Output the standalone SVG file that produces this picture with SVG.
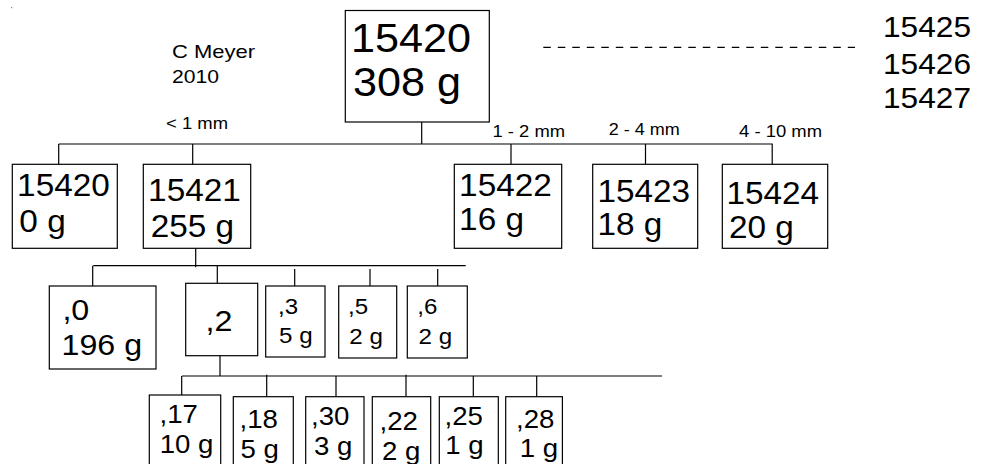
<svg xmlns="http://www.w3.org/2000/svg" width="987" height="464" viewBox="0 0 987 464">
<style>
  .box { fill: #fff; stroke: #000; stroke-width: 1.2; }
  .ln { fill: none; stroke: #000; stroke-width: 1.2; }
  .dash { fill: none; stroke: #000; stroke-width: 1.2; stroke-dasharray: 7.5 7; }
  text { font-family: "Liberation Sans", Arial, sans-serif; fill: #000; }
  .t44 { font-size: 40px; }
  .t29 { font-size: 30.5px; }
  .t28 { font-size: 29px; }
  .t24 { font-size: 25px; }
  .t21 { font-size: 22px; }
  .t18 { font-size: 19px; }
  .t16 { font-size: 16.5px; }
  .t15 { font-size: 16px; }
  .tr { font-size: 29.5px; }
</style>
<rect width="987" height="464" fill="#fff"/>
<rect x="11" y="7" width="1.2" height="1.2" fill="#888"/>

<g id="connectors">
  <path class="ln" d="M421.7 122 V144 M58.7 144 H772.7 M58.7 144 V164.3 M192.7 144 V164.3 M511 144 V164.3 M645.5 144 V164.3 M772.2 144 V164.3"/>
  <path class="ln" d="M195.7 248.3 V267.3 M93.3 265.7 H465.7 M92.7 265.7 V286 M217.3 265.7 V283.3 M294.7 269 V286 M370 269 V286 M437.7 269 V286"/>
  <path class="ln" d="M220 355.7 V376 M182 376 H662 M181.7 376 V395 M266.7 374.8 V396.7 M336 376 V396.7 M406 374.8 V396.7 M473.3 376 V396.7 M536.7 376 V396.7"/>
  <path class="dash" d="M543.3 47.3 H855"/>
</g>

<g id="labels">
  <text class="t18" x="172" y="58.3" textLength="83" lengthAdjust="spacingAndGlyphs">C Meyer</text>
  <text class="t18" x="172" y="83.3" textLength="47" lengthAdjust="spacingAndGlyphs">2010</text>
  <text class="t16" x="166" y="129" textLength="62" lengthAdjust="spacingAndGlyphs">&lt; 1 mm</text>
  <text class="t15" x="492.5" y="136.5" textLength="72.5" lengthAdjust="spacingAndGlyphs">1 - 2 mm</text>
  <text class="t15" x="608.8" y="135" textLength="71" lengthAdjust="spacingAndGlyphs">2 - 4 mm</text>
  <text class="t15" x="739" y="136.5" textLength="83" lengthAdjust="spacingAndGlyphs">4 - 10 mm</text>
  <text class="tr" x="883" y="37" textLength="88" lengthAdjust="spacingAndGlyphs">15425</text>
  <text class="tr" x="883" y="73.5" textLength="88" lengthAdjust="spacingAndGlyphs">15426</text>
  <text class="tr" x="883" y="108" textLength="88" lengthAdjust="spacingAndGlyphs">15427</text>
</g>

<g id="n15420-root">
  <rect class="box" x="345.3" y="10.5" width="144" height="111.5"/>
  <text class="t44" x="351" y="51.5" textLength="120" lengthAdjust="spacingAndGlyphs">15420</text>
  <text class="t44" x="353" y="96.3" textLength="108" lengthAdjust="spacingAndGlyphs">308 g</text>
</g>

<g id="n15420">
  <rect class="box" x="12.3" y="164.3" width="105" height="84"/>
  <text class="t29" x="17.1" y="195.7" textLength="92.7" lengthAdjust="spacingAndGlyphs">15420</text>
  <text class="t29" x="19.3" y="231.5" textLength="46.4" lengthAdjust="spacingAndGlyphs">0 g</text>
</g>
<g id="n15421">
  <rect class="box" x="143.3" y="164.3" width="107.4" height="84"/>
  <text class="t29" x="148.1" y="201" textLength="92.7" lengthAdjust="spacingAndGlyphs">15421</text>
  <text class="t29" x="150.7" y="236.5" textLength="83.4" lengthAdjust="spacingAndGlyphs">255 g</text>
</g>
<g id="n15422">
  <rect class="box" x="454.3" y="164.3" width="107.4" height="84"/>
  <text class="t29" x="459.1" y="195.7" textLength="92.7" lengthAdjust="spacingAndGlyphs">15422</text>
  <text class="t29" x="459.1" y="230" textLength="64.9" lengthAdjust="spacingAndGlyphs">16 g</text>
</g>
<g id="n15423">
  <rect class="box" x="592.7" y="164.3" width="105" height="84"/>
  <text class="t29" x="597.4" y="201.7" textLength="92.7" lengthAdjust="spacingAndGlyphs">15423</text>
  <text class="t29" x="597.4" y="235" textLength="64.9" lengthAdjust="spacingAndGlyphs">18 g</text>
</g>
<g id="n15424">
  <rect class="box" x="722.3" y="164.3" width="105.4" height="84"/>
  <text class="t29" x="726.4" y="204" textLength="92.7" lengthAdjust="spacingAndGlyphs">15424</text>
  <text class="t29" x="729" y="238" textLength="64.9" lengthAdjust="spacingAndGlyphs">20 g</text>
</g>

<g id="n0">
  <rect class="box" x="49.3" y="286" width="106.7" height="83"/>
  <text class="t28" x="62.4" y="320" textLength="26.9" lengthAdjust="spacingAndGlyphs">,0</text>
  <text class="t28" x="61.5" y="355" textLength="80.6" lengthAdjust="spacingAndGlyphs">196 g</text>
</g>
<g id="n2">
  <rect class="box" x="185.7" y="283.3" width="72" height="72.4"/>
  <text class="t28" x="205.5" y="331" textLength="26.9" lengthAdjust="spacingAndGlyphs">,2</text>
</g>
<g id="n3">
  <rect class="box" x="265.7" y="286" width="59.3" height="71"/>
  <text class="t21" x="278" y="314.3" textLength="20.1" lengthAdjust="spacingAndGlyphs">,3</text>
  <text class="t21" x="279" y="343.3" textLength="33.6" lengthAdjust="spacingAndGlyphs">5 g</text>
</g>
<g id="n5">
  <rect class="box" x="338.7" y="286" width="58" height="72"/>
  <text class="t21" x="348" y="314" textLength="20.1" lengthAdjust="spacingAndGlyphs">,5</text>
  <text class="t21" x="349.3" y="343.5" textLength="33.6" lengthAdjust="spacingAndGlyphs">2 g</text>
</g>
<g id="n6">
  <rect class="box" x="407.3" y="286" width="60" height="72"/>
  <text class="t21" x="417.3" y="314" textLength="20.1" lengthAdjust="spacingAndGlyphs">,6</text>
  <text class="t21" x="418.6" y="343.5" textLength="33.6" lengthAdjust="spacingAndGlyphs">2 g</text>
</g>

<g id="n17">
  <rect class="box" x="149.3" y="395" width="71.4" height="80"/>
  <text class="t24" x="159.5" y="423.3" textLength="38.4" lengthAdjust="spacingAndGlyphs">,17</text>
  <text class="t24" x="159.7" y="453.3" textLength="53.7" lengthAdjust="spacingAndGlyphs">10 g</text>
</g>
<g id="n18">
  <rect class="box" x="233.3" y="396.7" width="60" height="80"/>
  <text class="t24" x="239.5" y="428.3" textLength="38.4" lengthAdjust="spacingAndGlyphs">,18</text>
  <text class="t24" x="240.5" y="458" textLength="38.4" lengthAdjust="spacingAndGlyphs">5 g</text>
</g>
<g id="n30">
  <rect class="box" x="305.7" y="396.7" width="58.3" height="80"/>
  <text class="t24" x="311" y="425" textLength="38.4" lengthAdjust="spacingAndGlyphs">,30</text>
  <text class="t24" x="314" y="455" textLength="38.4" lengthAdjust="spacingAndGlyphs">3 g</text>
</g>
<g id="n22">
  <rect class="box" x="372.3" y="396.7" width="58.4" height="80"/>
  <text class="t24" x="379.5" y="430" textLength="38.4" lengthAdjust="spacingAndGlyphs">,22</text>
  <text class="t24" x="382" y="460" textLength="38.4" lengthAdjust="spacingAndGlyphs">2 g</text>
</g>
<g id="n25">
  <rect class="box" x="439.3" y="396.7" width="59" height="80"/>
  <text class="t24" x="444.5" y="425" textLength="38.4" lengthAdjust="spacingAndGlyphs">,25</text>
  <text class="t24" x="445.3" y="454.3" textLength="38.4" lengthAdjust="spacingAndGlyphs">1 g</text>
</g>
<g id="n28">
  <rect class="box" x="505.7" y="396.7" width="56.7" height="80"/>
  <text class="t24" x="516" y="428.3" textLength="38.4" lengthAdjust="spacingAndGlyphs">,28</text>
  <text class="t24" x="519.7" y="456.7" textLength="38.4" lengthAdjust="spacingAndGlyphs">1 g</text>
</g>
</svg>
